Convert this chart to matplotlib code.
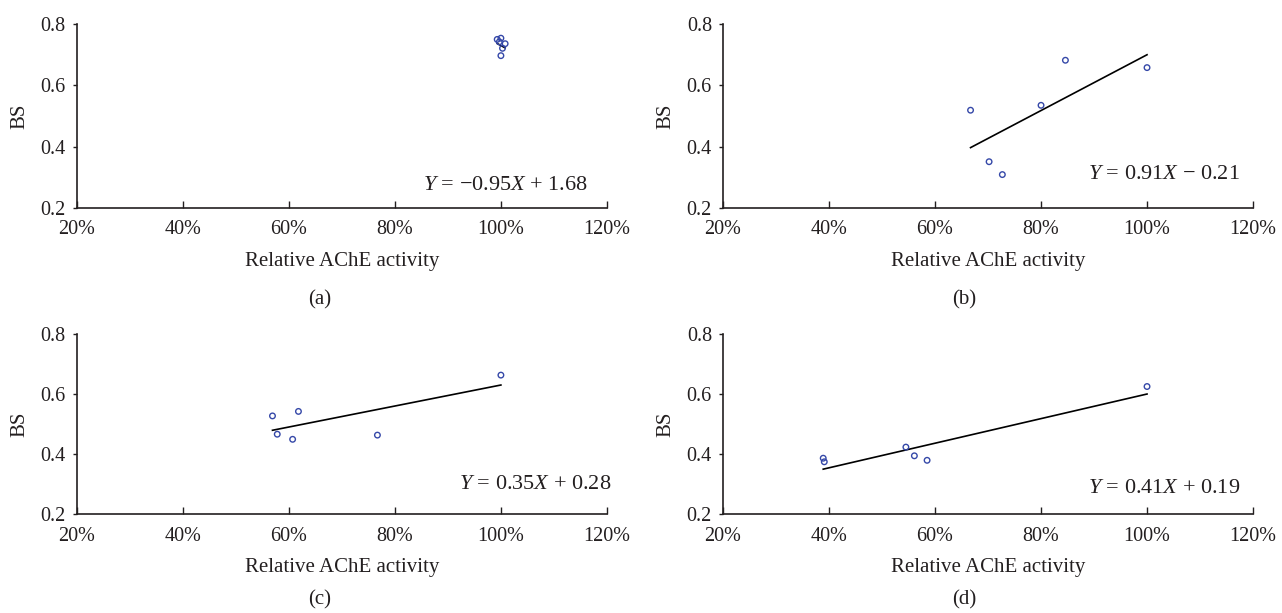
import matplotlib
matplotlib.use('Agg')
import matplotlib.pyplot as plt
from matplotlib.ticker import FuncFormatter

plt.rcParams['font.family'] = 'Liberation Serif'
plt.rcParams['mathtext.fontset'] = 'custom'
plt.rcParams['mathtext.rm'] = 'Liberation Serif'
plt.rcParams['mathtext.it'] = 'Liberation Serif:italic'

# Relative AChE activity (fraction) vs BS
a_x = [0.993, 1.000, 0.997, 1.008, 1.003, 1.000]
a_y = [0.750, 0.754, 0.742, 0.736, 0.721, 0.697]
b_x = [0.667, 0.702, 0.727, 0.800, 0.846, 1.000]
b_y = [0.519, 0.351, 0.309, 0.535, 0.682, 0.658]
c_x = [0.569, 0.578, 0.607, 0.618, 0.767, 1.000]
c_y = [0.527, 0.466, 0.449, 0.542, 0.463, 0.663]
d_x = [0.389, 0.391, 0.545, 0.561, 0.585, 1.000]
d_y = [0.386, 0.374, 0.423, 0.394, 0.379, 0.625]

# regression coefficients printed on each panel
slopes = [-0.95, 0.91, 0.35, 0.41]
intercepts = [1.68, -0.21, 0.28, 0.19]
equations = [r'$Y$ = −0.95$X$ + 1.68', r'$Y$ = 0.91$X$ − 0.21',
             r'$Y$ = 0.35$X$ + 0.28', r'$Y$ = 0.41$X$ + 0.19']
panel_labels = ['(a)', '(b)', '(c)', '(d)']

xs = [a_x, b_x, c_x, d_x]
ys = [a_y, b_y, c_y, d_y]

txt = '#231f20'
fig = plt.figure(figsize=(12.82, 6.13), dpi=100)

W = 0.4134
positions = [[0.060, 0.6607, W, 0.300], [0.564, 0.6607, W, 0.300],
             [0.060, 0.1615, W, 0.2936], [0.564, 0.1615, W, 0.2936]]
eq_pos = [(0.965, 0.12), (0.975, 0.18), (1.008, 0.165), (0.975, 0.14)]
lab_pos = [(0.249, 0.511), (0.752, 0.511), (0.249, 0.022), (0.752, 0.022)]

for i in range(4):
    ax = fig.add_axes(positions[i])
    ax.scatter(xs[i], ys[i], s=16, facecolors='none', edgecolors='#3548a8', linewidths=1.0, zorder=3)
    x0, x1 = min(xs[i]), max(xs[i])
    ax.plot([x0, x1], [slopes[i] * x0 + intercepts[i], slopes[i] * x1 + intercepts[i]],
            color='black', lw=1.2, zorder=2)
    ax.set_xlim(0.2, 1.2)
    ax.set_ylim(0.2, 0.8)
    ax.set_xticks([0.2, 0.4, 0.6, 0.8, 1.0, 1.2])
    ax.set_yticks([0.2, 0.4, 0.6, 0.8])
    ax.xaxis.set_major_formatter(FuncFormatter(lambda v, p: f'{v * 100:.0f}%'))
    ax.yaxis.set_major_formatter(FuncFormatter(lambda v, p: f'{v:.1f}'))
    ax.spines['top'].set_visible(False)
    ax.spines['right'].set_visible(False)
    for s in ['left', 'bottom']:
        ax.spines[s].set_color('#231f20')
        ax.spines[s].set_linewidth(1.2)
    ax.tick_params(axis='x', direction='in', length=5, width=1, pad=9, labelsize=14.5, colors=txt)
    ax.tick_params(axis='y', direction='out', length=3, width=1, pad=5, labelsize=14.5, colors=txt)
    ax.set_xlabel('Relative AChE activity', fontsize=15, color=txt, labelpad=9)
    ax.set_ylabel('BS', fontsize=15, color=txt, labelpad=8)
    ax.text(eq_pos[i][0], eq_pos[i][1], equations[i], transform=ax.transAxes,
            ha='right', va='center', fontsize=16, color=txt)
    fig.text(lab_pos[i][0], lab_pos[i][1], panel_labels[i], ha='center', va='center',
             fontsize=15, color=txt)

fig.savefig('out.png', dpi=100)
